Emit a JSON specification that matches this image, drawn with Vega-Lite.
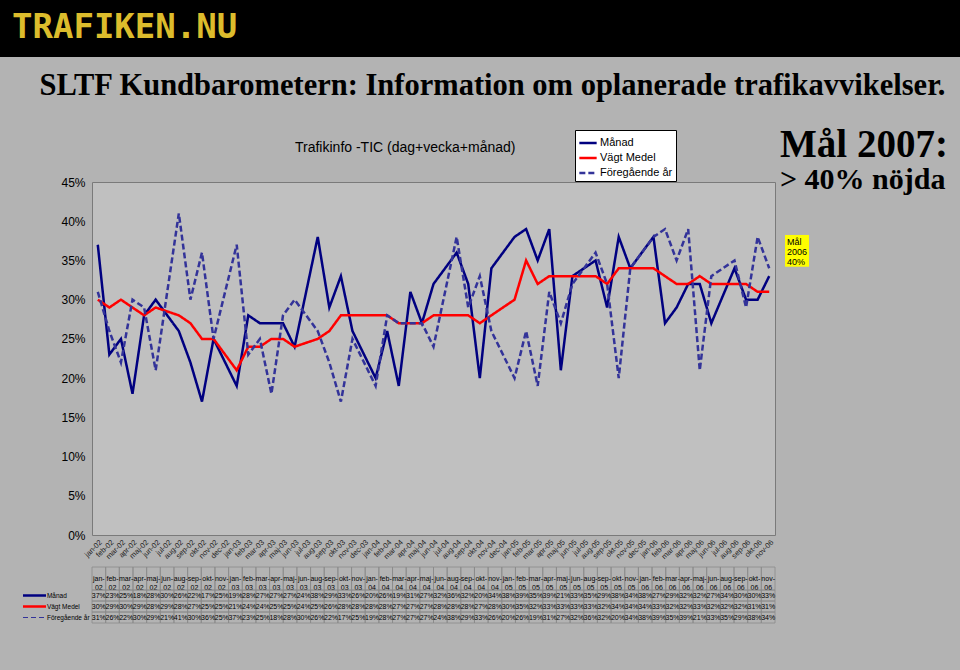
{
  "$schema": "https://vega.github.io/schema/vega-lite/v6.json",
  "background": "#b3b3b3",
  "padding": 0,
  "bounds": "flush",
  "columns": 3,
  "align": "each",
  "spacing": {"row": 0, "column": 0},
  "config": {"view": {"stroke": null}, "font": "Liberation Sans", "axis": {"labelFont": "Liberation Sans"}, "legend": {"labelFont": "Liberation Sans"}},
  "resolve": {"scale": {"color": "independent", "strokeDash": "independent", "strokeWidth": "independent"}},
  "datasets": {
    "tbl": [
      {"col": "jan-02", "Månad": 0.37, "Vägt Medel": 0.30, "Föregående år": 0.31},
      {"col": "feb-02", "Månad": 0.23, "Vägt Medel": 0.29, "Föregående år": 0.26},
      {"col": "mar-02", "Månad": 0.25, "Vägt Medel": 0.30, "Föregående år": 0.22},
      {"col": "apr-02", "Månad": 0.18, "Vägt Medel": 0.29, "Föregående år": 0.30},
      {"col": "maj-02", "Månad": 0.28, "Vägt Medel": 0.28, "Föregående år": 0.29},
      {"col": "jun-02", "Månad": 0.30, "Vägt Medel": 0.29, "Föregående år": 0.21},
      {"col": "aug-02", "Månad": 0.26, "Vägt Medel": 0.28, "Föregående år": 0.41},
      {"col": "sep-02", "Månad": 0.22, "Vägt Medel": 0.27, "Föregående år": 0.30},
      {"col": "okt-02", "Månad": 0.17, "Vägt Medel": 0.25, "Föregående år": 0.36},
      {"col": "nov-02", "Månad": 0.25, "Vägt Medel": 0.25, "Föregående år": 0.25},
      {"col": "jan-03", "Månad": 0.19, "Vägt Medel": 0.21, "Föregående år": 0.37},
      {"col": "feb-03", "Månad": 0.28, "Vägt Medel": 0.24, "Föregående år": 0.23},
      {"col": "mar-03", "Månad": 0.27, "Vägt Medel": 0.24, "Föregående år": 0.25},
      {"col": "apr-03", "Månad": 0.27, "Vägt Medel": 0.25, "Föregående år": 0.18},
      {"col": "maj-03", "Månad": 0.27, "Vägt Medel": 0.25, "Föregående år": 0.28},
      {"col": "jun-03", "Månad": 0.24, "Vägt Medel": 0.24, "Föregående år": 0.30},
      {"col": "aug-03", "Månad": 0.38, "Vägt Medel": 0.25, "Föregående år": 0.26},
      {"col": "sep-03", "Månad": 0.29, "Vägt Medel": 0.26, "Föregående år": 0.22},
      {"col": "okt-03", "Månad": 0.33, "Vägt Medel": 0.28, "Föregående år": 0.17},
      {"col": "nov-03", "Månad": 0.26, "Vägt Medel": 0.28, "Föregående år": 0.25},
      {"col": "jan-04", "Månad": 0.20, "Vägt Medel": 0.28, "Föregående år": 0.19},
      {"col": "feb-04", "Månad": 0.26, "Vägt Medel": 0.28, "Föregående år": 0.28},
      {"col": "mar-04", "Månad": 0.19, "Vägt Medel": 0.27, "Föregående år": 0.27},
      {"col": "apr-04", "Månad": 0.31, "Vägt Medel": 0.27, "Föregående år": 0.27},
      {"col": "maj-04", "Månad": 0.27, "Vägt Medel": 0.27, "Föregående år": 0.27},
      {"col": "jun-04", "Månad": 0.32, "Vägt Medel": 0.28, "Föregående år": 0.24},
      {"col": "aug-04", "Månad": 0.36, "Vägt Medel": 0.28, "Föregående år": 0.38},
      {"col": "sep-04", "Månad": 0.32, "Vägt Medel": 0.28, "Föregående år": 0.29},
      {"col": "okt-04", "Månad": 0.20, "Vägt Medel": 0.27, "Föregående år": 0.33},
      {"col": "nov-04", "Månad": 0.34, "Vägt Medel": 0.28, "Föregående år": 0.26},
      {"col": "jan-05", "Månad": 0.38, "Vägt Medel": 0.30, "Föregående år": 0.20},
      {"col": "feb-05", "Månad": 0.39, "Vägt Medel": 0.35, "Föregående år": 0.26},
      {"col": "mar-05", "Månad": 0.35, "Vägt Medel": 0.32, "Föregående år": 0.19},
      {"col": "apr-05", "Månad": 0.39, "Vägt Medel": 0.33, "Föregående år": 0.31},
      {"col": "maj-05", "Månad": 0.21, "Vägt Medel": 0.33, "Föregående år": 0.27},
      {"col": "jun-05", "Månad": 0.33, "Vägt Medel": 0.33, "Föregående år": 0.32},
      {"col": "aug-05", "Månad": 0.35, "Vägt Medel": 0.33, "Föregående år": 0.36},
      {"col": "sep-05", "Månad": 0.29, "Vägt Medel": 0.32, "Föregående år": 0.32},
      {"col": "okt-05", "Månad": 0.38, "Vägt Medel": 0.34, "Föregående år": 0.20},
      {"col": "nov-05", "Månad": 0.34, "Vägt Medel": 0.34, "Föregående år": 0.34},
      {"col": "jan-06", "Månad": 0.38, "Vägt Medel": 0.34, "Föregående år": 0.38},
      {"col": "feb-06", "Månad": 0.27, "Vägt Medel": 0.33, "Föregående år": 0.39},
      {"col": "mar-06", "Månad": 0.29, "Vägt Medel": 0.32, "Föregående år": 0.35},
      {"col": "apr-06", "Månad": 0.32, "Vägt Medel": 0.32, "Föregående år": 0.39},
      {"col": "maj-06", "Månad": 0.32, "Vägt Medel": 0.33, "Föregående år": 0.21},
      {"col": "jun-06", "Månad": 0.27, "Vägt Medel": 0.32, "Föregående år": 0.33},
      {"col": "aug-06", "Månad": 0.34, "Vägt Medel": 0.32, "Föregående år": 0.35},
      {"col": "sep-06", "Månad": 0.30, "Vägt Medel": 0.32, "Föregående år": 0.29},
      {"col": "okt-06", "Månad": 0.30, "Vägt Medel": 0.31, "Föregående år": 0.38},
      {"col": "nov-06", "Månad": 0.33, "Vägt Medel": 0.31, "Föregående år": 0.34}
    ]
  },
  "concat": [
    {"width": 92, "height": 57, "view": {"fill": "#000000"}, "data": {"values": []}, "mark": "point"},
    {
      "width": 683,
      "height": 57,
      "view": {"fill": "#000000"},
      "data": {"values": [{"t": "TRAFIKEN.NU"}]},
      "mark": {"type": "text", "align": "left", "baseline": "middle", "dx": -421.5, "dy": -1, "font": "DejaVu Sans Mono", "fontWeight": "bold", "fontSize": 34, "color": "#dcbc2c"},
      "encoding": {"text": {"field": "t"}},
      "title": {"text": "SLTF Kundbarometern: Information om oplanerade trafikavvikelser.", "orient": "bottom", "anchor": "middle", "dx": 59, "offset": 14, "font": "Liberation Serif", "fontSize": 30.5, "fontWeight": "bold", "color": "#000000"}
    },
    {"width": 185, "height": 57, "view": {"fill": "#000000"}, "data": {"values": []}, "mark": "point"},

    {"width": 1, "height": 125, "data": {"values": []}, "mark": "point"},
    {
      "width": 683, "height": 125, "data": {"values": []}, "mark": "point",
      "title": {"text": "Trafikinfo -TIC (dag+vecka+månad)", "orient": "bottom", "baseline": "alphabetic", "anchor": "start", "dx": 203, "offset": -30, "fontSize": 14, "fontWeight": "normal", "font": "Liberation Sans", "color": "#000000"}
    },
    {"width": 1, "height": 1, "data": {"values": []}, "mark": "point"},

    {"width": 1, "height": 1, "data": {"values": []}, "mark": "point"},
    {
      "width": 683,
      "height": 353,
      "view": {"fill": "#c0c0c0", "stroke": "#7a7a7a", "strokeWidth": 1},
      "data": {"name": "tbl"},
      "transform": [{"fold": ["Månad", "Vägt Medel", "Föregående år"], "as": ["series", "value"]}],
      "mark": {"type": "line"},
      "encoding": {
        "x": {
          "field": "col", "type": "ordinal",
          "sort": ["jan-02","feb-02","mar-02","apr-02","maj-02","jun-02","jul-02","aug-02","sep-02","okt-02","nov-02","dec-02","jan-03","feb-03","mar-03","apr-03","maj-03","jun-03","jul-03","aug-03","sep-03","okt-03","nov-03","dec-03","jan-04","feb-04","mar-04","apr-04","maj-04","jun-04","jul-04","aug-04","sep-04","okt-04","nov-04","dec-04","jan-05","feb-05","mar-05","apr-05","maj-05","jun-05","jul-05","aug-05","sep-05","okt-05","nov-05","dec-05","jan-06","feb-06","mar-06","apr-06","maj-06","jun-06","jul-06","aug-06","sep-06","okt-06","nov-06"],
          "scale": {"type": "point", "padding": 0.5, "domain": ["jan-02","feb-02","mar-02","apr-02","maj-02","jun-02","jul-02","aug-02","sep-02","okt-02","nov-02","dec-02","jan-03","feb-03","mar-03","apr-03","maj-03","jun-03","jul-03","aug-03","sep-03","okt-03","nov-03","dec-03","jan-04","feb-04","mar-04","apr-04","maj-04","jun-04","jul-04","aug-04","sep-04","okt-04","nov-04","dec-04","jan-05","feb-05","mar-05","apr-05","maj-05","jun-05","jul-05","aug-05","sep-05","okt-05","nov-05","dec-05","jan-06","feb-06","mar-06","apr-06","maj-06","jun-06","jul-06","aug-06","sep-06","okt-06","nov-06"]},
          "axis": {"title": null, "labelAngle": -45, "labelFontSize": 7.5, "labelColor": "#222222", "ticks": false, "domain": false, "labelPadding": 3, "labelOverlap": false}
        },
        "y": {
          "field": "value", "type": "quantitative",
          "scale": {"domain": [0, 0.45]},
          "axis": {"title": null, "format": ".0%", "values": [0, 0.05, 0.1, 0.15, 0.2, 0.25, 0.3, 0.35, 0.4, 0.45], "labelFontSize": 12, "labelColor": "#000000", "ticks": false, "domain": false, "grid": false, "labelPadding": 7}
        },
        "color": {
          "field": "series", "type": "nominal",
          "scale": {"domain": ["Månad", "Vägt Medel", "Föregående år"], "range": ["#000080", "#ff0000", "#333399"]},
          "legend": {"title": null, "orient": "none", "legendX": 483, "legendY": -52, "fillColor": "#ffffff", "strokeColor": "#000000", "padding": 3, "labelFontSize": 11, "labelColor": "#000000", "symbolType": "stroke", "symbolSize": 300, "rowPadding": 0, "labelOffset": 2}
        },
        "strokeDash": {"field": "series", "type": "nominal", "scale": {"domain": ["Månad", "Vägt Medel", "Föregående år"], "range": [[1, 0], [1, 0], [6, 3]]}},
        "strokeWidth": {"field": "series", "type": "nominal", "scale": {"domain": ["Månad", "Vägt Medel", "Föregående år"], "range": [2.5, 2.5, 1]}}
      }
    },
    {
      "width": 185,
      "height": 353,
      "title": {"text": "Mål 2007:", "subtitle": "> 40% nöjda", "anchor": "start", "dx": 5, "offset": -13, "font": "Liberation Serif", "fontSize": 39, "fontWeight": "bold", "color": "#000000", "subtitleFont": "Liberation Serif", "subtitleFontSize": 30, "subtitleFontWeight": "bold", "subtitleColor": "#000000", "subtitlePadding": 0},
      "data": {"values": [{"t": "Mål 2006 40%"}]},
      "layer": [
        {"mark": {"type": "rect", "color": "#ffff00"}, "encoding": {"x": {"datum": 10, "scale": {"domain": [0, 185]}, "axis": null}, "x2": {"datum": 34}, "y": {"datum": 0.3825, "scale": {"domain": [0, 0.45]}, "axis": null}, "y2": {"datum": 0.342}}},
        {"mark": {"type": "text", "align": "left", "baseline": "top", "fontSize": 9, "lineHeight": 10, "dx": 2, "dy": 3, "color": "#000000"}, "encoding": {"x": {"datum": 10, "scale": {"domain": [0, 185]}, "axis": null}, "y": {"datum": 0.3825, "scale": {"domain": [0, 0.45]}, "axis": null}, "text": {"value": ["Mål", "2006", "40%"]}}}
      ]
    },

    {"width": 1, "height": 32, "data": {"values": []}, "mark": "point"},
    {"width": 1, "height": 1, "data": {"values": []}, "mark": "point"},
    {"width": 1, "height": 1, "data": {"values": []}, "mark": "point"},

    {"width": 1, "height": 1, "data": {"values": []}, "mark": "point"},
    {
      "width": 683,
      "height": 23,
      "data": {"name": "tbl"},
      "transform": [{"calculate": "[split(datum.col,'-')[0] + '-', split(datum.col,'-')[1]]", "as": "hdr"}],
      "encoding": {"x": {"field": "col", "type": "nominal", "sort": null, "axis": null}},
      "layer": [
        {"mark": {"type": "rect", "filled": false, "color": "#8a8a8a", "strokeWidth": 0.8}},
        {"mark": {"type": "text", "fontSize": 7, "lineHeight": 9, "color": "#000000"}, "encoding": {"text": {"field": "hdr"}}}
      ]
    },
    {"width": 1, "height": 1, "data": {"values": []}, "mark": "point"},

    {
      "width": 92,
      "height": 33,
      "data": {"name": "tbl"},
      "transform": [{"filter": "datum.col === 'jan-02'"}, {"fold": ["Månad", "Vägt Medel", "Föregående år"], "as": ["series", "value"]}],
      "encoding": {"y": {"field": "series", "type": "nominal", "sort": ["Månad", "Vägt Medel", "Föregående år"], "axis": null}},
      "layer": [
        {"transform": [{"filter": "datum.series === 'Månad'"}], "mark": {"type": "rule", "color": "#000080", "strokeWidth": 2.5}, "encoding": {"x": {"datum": 0.25, "scale": {"domain": [0, 1]}, "axis": null}, "x2": {"datum": 0.5}}},
        {"transform": [{"filter": "datum.series === 'Vägt Medel'"}], "mark": {"type": "rule", "color": "#ff0000", "strokeWidth": 2.5}, "encoding": {"x": {"datum": 0.25, "scale": {"domain": [0, 1]}, "axis": null}, "x2": {"datum": 0.5}}},
        {"transform": [{"filter": "datum.series === 'Föregående år'"}], "mark": {"type": "rule", "color": "#333399", "strokeWidth": 1, "strokeDash": [5, 3]}, "encoding": {"x": {"datum": 0.25, "scale": {"domain": [0, 1]}, "axis": null}, "x2": {"datum": 0.5}}},
        {"mark": {"type": "text", "align": "left", "fontSize": 6.5, "color": "#000000"}, "encoding": {"x": {"datum": 0.51, "scale": {"domain": [0, 1]}, "axis": null}, "text": {"field": "series"}}}
      ]
    },
    {
      "width": 683,
      "height": 33,
      "data": {"name": "tbl"},
      "transform": [{"fold": ["Månad", "Vägt Medel", "Föregående år"], "as": ["series", "value"]}],
      "encoding": {
        "x": {"field": "col", "type": "nominal", "sort": null, "axis": null},
        "y": {"field": "series", "type": "nominal", "sort": ["Månad", "Vägt Medel", "Föregående år"], "axis": null}
      },
      "layer": [
        {"mark": {"type": "rect", "filled": false, "color": "#8a8a8a", "strokeWidth": 0.8}},
        {"mark": {"type": "text", "fontSize": 7, "color": "#000000"}, "encoding": {"text": {"field": "value", "type": "quantitative", "format": ".0%"}}}
      ]
    },
    {"width": 1, "height": 1, "data": {"values": []}, "mark": "point"},

    {"width": 1, "height": 47, "data": {"values": []}, "mark": "point"}
  ]
}
